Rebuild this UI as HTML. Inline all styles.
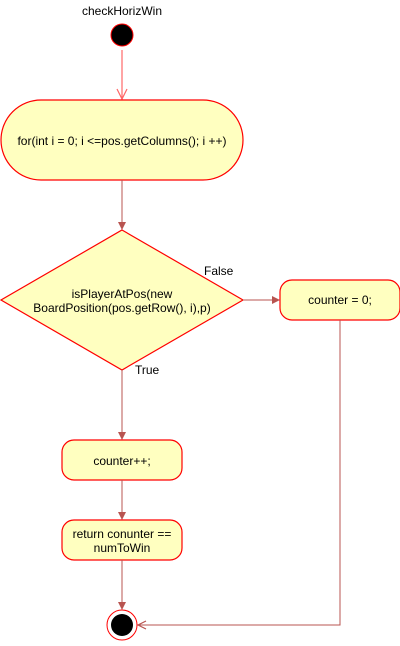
<!DOCTYPE html>
<html><head><style>body{margin:0;background:#fff}</style></head><body>
<svg width="400" height="641" xmlns="http://www.w3.org/2000/svg" font-family="Liberation Sans, sans-serif" font-size="12">
<text x="122" y="15" text-anchor="middle" fill="#000">checkHorizWin</text>
<circle cx="122" cy="35" r="11" fill="#000" stroke="#ff0000"/>
<line x1="122" y1="50" x2="122" y2="99" stroke="#ff6666" stroke-width="1.2"/>
<polyline points="117,89 122,99 127,89" fill="none" stroke="#ff6666" stroke-width="1.2"/>
<rect x="1" y="100" width="242" height="80" rx="40" fill="#ffffc0" stroke="#ff0000" stroke-width="1.2"/>
<text x="122" y="145" text-anchor="middle">for(int i = 0; i &lt;=pos.getColumns(); i ++)</text>
<line x1="122" y1="180" x2="122" y2="229" stroke="#b85450" stroke-width="1"/>
<polygon points="118,222 122,230 126,222" fill="#b85450"/>
<polygon points="122,230 243,300 122,370 1,300" fill="#ffffc0" stroke="#ff0000" stroke-width="1.2"/>
<text x="122" y="298" text-anchor="middle">isPlayerAtPos(new</text>
<text x="122" y="312" text-anchor="middle">BoardPosition(pos.getRow(), i),p)</text>
<text x="204" y="275">False</text>
<line x1="243" y1="300" x2="279" y2="300" stroke="#b85450"/>
<polygon points="272,296 280,300 272,304" fill="#b85450"/>
<rect x="280" y="280" width="120" height="40" rx="12" fill="#ffffc0" stroke="#ff0000" stroke-width="1.2"/>
<text x="340" y="304" text-anchor="middle">counter = 0;</text>
<text x="135" y="374">True</text>
<line x1="122" y1="370" x2="122" y2="439" stroke="#b85450"/>
<polygon points="118,432 122,440 126,432" fill="#b85450"/>
<rect x="62" y="440" width="120" height="40" rx="12" fill="#ffffc0" stroke="#ff0000" stroke-width="1.2"/>
<text x="122" y="465" text-anchor="middle">counter++;</text>
<line x1="122" y1="480" x2="122" y2="519" stroke="#b85450"/>
<polygon points="118,512 122,520 126,512" fill="#b85450"/>
<rect x="62" y="520" width="120" height="40" rx="12" fill="#ffffc0" stroke="#ff0000" stroke-width="1.2"/>
<text x="122" y="538" text-anchor="middle">return conunter ==</text>
<text x="122" y="552" text-anchor="middle">numToWin</text>
<line x1="122" y1="560" x2="122" y2="609" stroke="#b85450"/>
<polygon points="118,602 122,610 126,602" fill="#b85450"/>
<polyline points="340,320 340,625 138,625" fill="none" stroke="#b85450"/>
<polyline points="146,621 138,625 146,629" fill="none" stroke="#b85450" stroke-width="1.2"/>
<circle cx="122" cy="625" r="15" fill="#fff" stroke="#ff0000"/>
<circle cx="122" cy="625" r="11" fill="#000"/>
</svg>
</body></html>
